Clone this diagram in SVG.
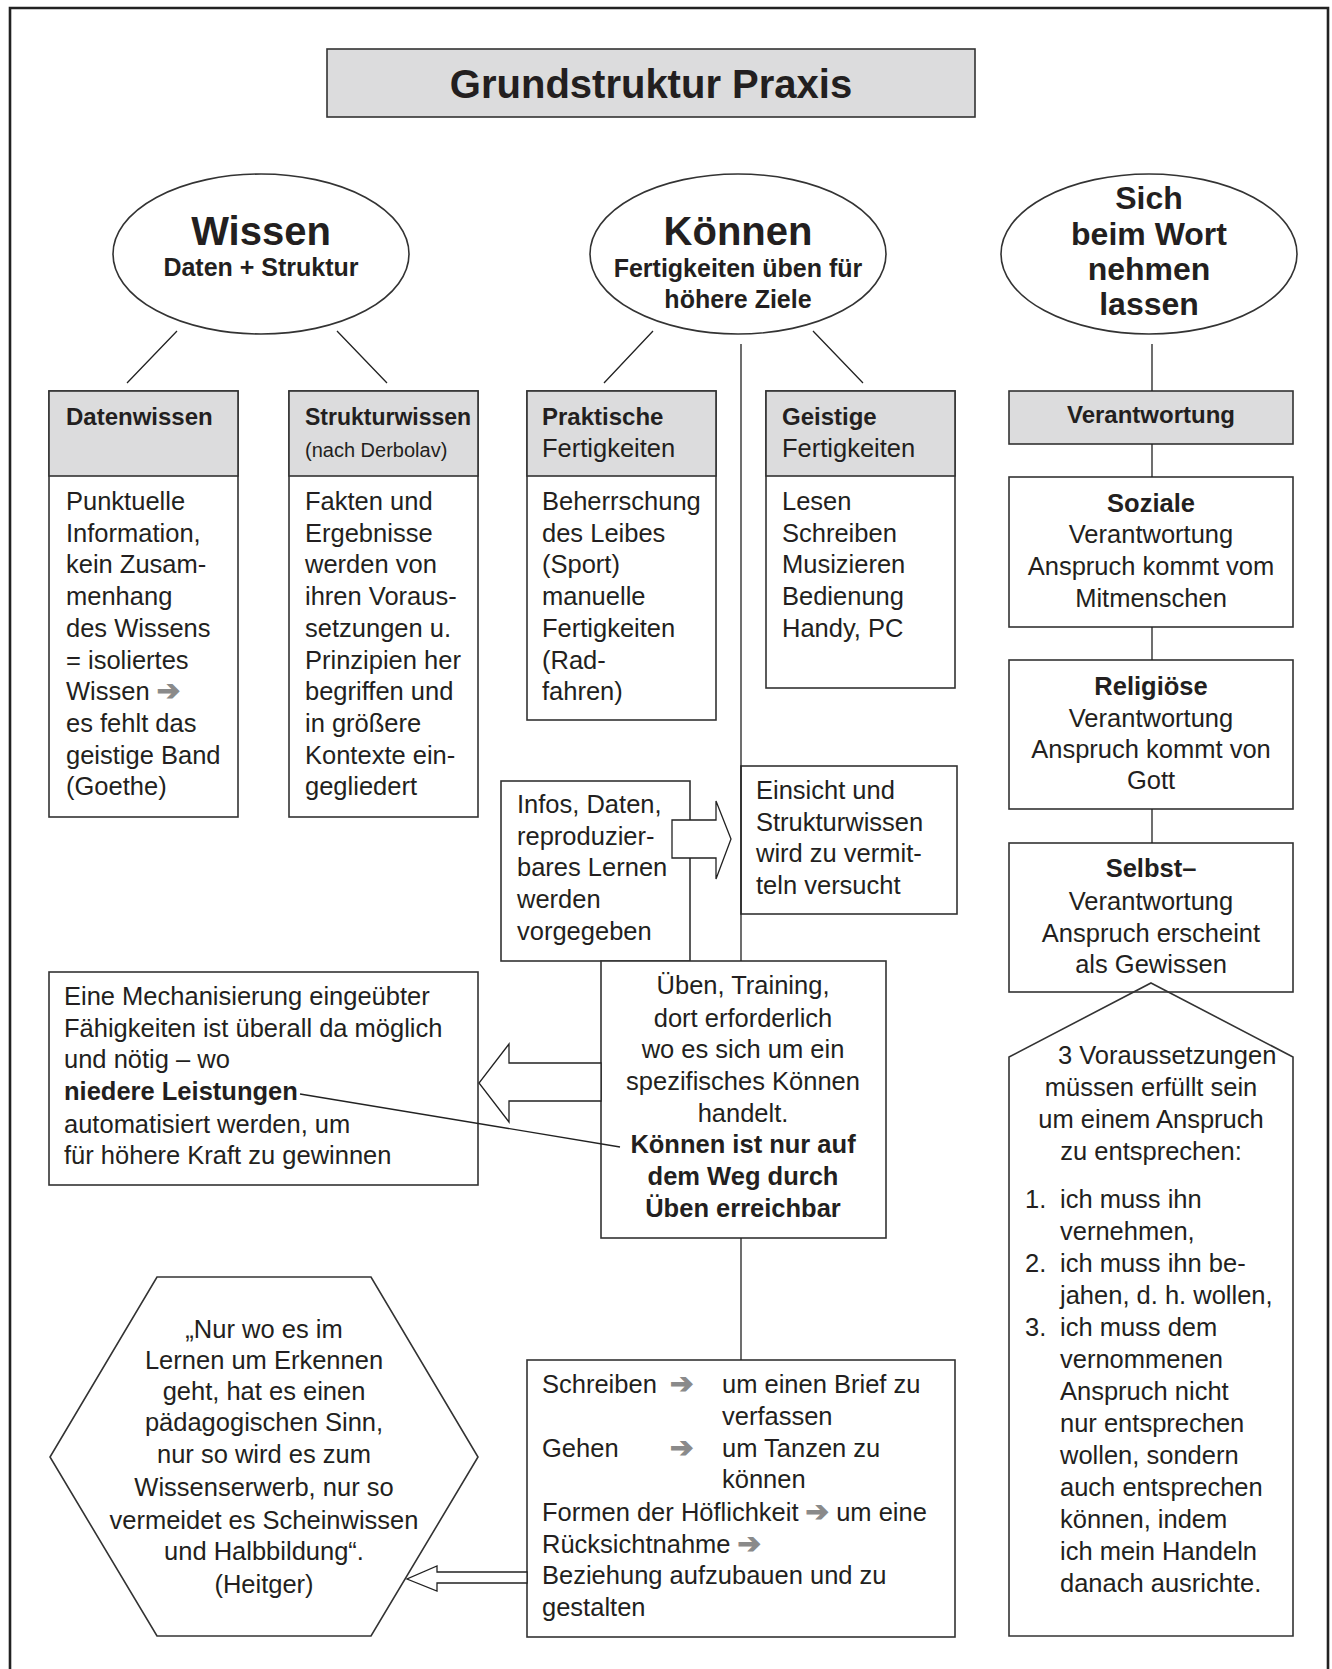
<svg xmlns="http://www.w3.org/2000/svg" width="1332" height="1669" viewBox="0 0 1332 1669">
<style>
.t{font-family:"Liberation Sans",Arial,sans-serif;font-size:25.5px;fill:#231f20}
.b{font-weight:bold}
.c{text-anchor:middle}
.box{fill:#fff;stroke:#333;stroke-width:1.6}
.hdr{fill:#dcdcdd;stroke:#333;stroke-width:1.6}
.ln{stroke:#222;stroke-width:1.3;fill:none}
.ha{fill:#fff;stroke:#222;stroke-width:1.3}
.ar{fill:#8a8a8a;stroke:#8a8a8a;stroke-width:1.1;font-family:"DejaVu Sans",sans-serif;font-size:28px;font-weight:bold}
</style>
<path d="M10 1669V8H1328V1669" fill="none" stroke="#222" stroke-width="2.6"/>

<g id="title">
<rect x="327" y="49" width="648" height="68" class="hdr"/>
<text x="651" y="98" class="t b c" style="font-size:40px">Grundstruktur Praxis</text>
</g>

<g id="wissen">
<ellipse cx="261" cy="254" rx="148" ry="80" class="box"/>
<text x="261" y="245" class="t b c" style="font-size:40px">Wissen</text>
<text x="261" y="276" class="t b c" style="font-size:25px">Daten + Struktur</text>
</g>
<g id="koennen">
<ellipse cx="738" cy="254" rx="148" ry="80" class="box"/>
<text x="738" y="245" class="t b c" style="font-size:40px">Können</text>
<text x="738" y="277" class="t b c" style="font-size:25px">Fertigkeiten üben für</text>
<text x="738" y="308" class="t b c" style="font-size:25px">höhere Ziele</text>
</g>
<g id="sich">
<ellipse cx="1149" cy="254" rx="148" ry="80" class="box"/>
<text class="t b c" style="font-size:32px"><tspan x="1149" y="209">Sich</tspan><tspan x="1149" y="245">beim Wort</tspan><tspan x="1149" y="280">nehmen</tspan><tspan x="1149" y="315">lassen</tspan></text>
</g>

<g id="datenwissen">
<rect x="49" y="391" width="189" height="426" class="box"/>
<rect x="49" y="391" width="189" height="85" class="hdr"/>
<text x="66" y="425" class="t b" style="font-size:24px">Datenwissen</text>
<text class="t"><tspan x="66" y="510">Punktuelle</tspan><tspan x="66" dy="31.7">Information,</tspan><tspan x="66" dy="31.7">kein Zusam-</tspan><tspan x="66" dy="31.7">menhang</tspan><tspan x="66" dy="31.7">des Wissens</tspan><tspan x="66" dy="31.7">= isoliertes</tspan><tspan x="66" dy="31.7">Wissen <tspan class="ar">➔</tspan></tspan><tspan x="66" dy="31.7">es fehlt das</tspan><tspan x="66" dy="31.7">geistige Band</tspan><tspan x="66" dy="31.7">(Goethe)</tspan></text>
</g>
<g id="strukturwissen">
<rect x="289" y="391" width="189" height="426" class="box"/>
<rect x="289" y="391" width="189" height="85" class="hdr"/>
<text x="305" y="425" class="t b" style="font-size:23px">Strukturwissen</text>
<text x="305" y="457" class="t" style="font-size:20px">(nach Derbolav)</text>
<text class="t"><tspan x="305" y="510">Fakten und</tspan><tspan x="305" dy="31.7">Ergebnisse</tspan><tspan x="305" dy="31.7">werden von</tspan><tspan x="305" dy="31.7">ihren Voraus-</tspan><tspan x="305" dy="31.7">setzungen u.</tspan><tspan x="305" dy="31.7">Prinzipien her</tspan><tspan x="305" dy="31.7">begriffen und</tspan><tspan x="305" dy="31.7">in größere</tspan><tspan x="305" dy="31.7">Kontexte ein-</tspan><tspan x="305" dy="31.7">gegliedert</tspan></text>
</g>
<g id="praktische">
<rect x="527" y="391" width="189" height="329" class="box"/>
<rect x="527" y="391" width="189" height="85" class="hdr"/>
<text x="542" y="425" class="t b" style="font-size:24px">Praktische</text>
<text x="542" y="457" class="t">Fertigkeiten</text>
<text class="t"><tspan x="542" y="510">Beherrschung</tspan><tspan x="542" dy="31.7">des Leibes</tspan><tspan x="542" dy="31.7">(Sport)</tspan><tspan x="542" dy="31.7">manuelle</tspan><tspan x="542" dy="31.7">Fertigkeiten</tspan><tspan x="542" dy="31.7">(Rad-</tspan><tspan x="542" dy="31.7">fahren)</tspan></text>
</g>
<g id="geistige">
<rect x="766" y="391" width="189" height="297" class="box"/>
<rect x="766" y="391" width="189" height="85" class="hdr"/>
<text x="782" y="425" class="t b" style="font-size:24px">Geistige</text>
<text x="782" y="457" class="t">Fertigkeiten</text>
<text class="t"><tspan x="782" y="510">Lesen</tspan><tspan x="782" dy="31.7">Schreiben</tspan><tspan x="782" dy="31.7">Musizieren</tspan><tspan x="782" dy="31.7">Bedienung</tspan><tspan x="782" dy="31.7">Handy, PC</tspan></text>
</g>

<g id="verantwortung">
<rect x="1009" y="391" width="284" height="53" class="hdr"/>
<text x="1151" y="423" class="t b c" style="font-size:24px">Verantwortung</text>
</g>
<g id="soziale">
<rect x="1009" y="477" width="284" height="150" class="box"/>
<text class="t c"><tspan x="1151" y="512" class="b">Soziale</tspan><tspan x="1151" y="543">Verantwortung</tspan><tspan x="1151" y="575">Anspruch kommt vom</tspan><tspan x="1151" y="607">Mitmenschen</tspan></text>
</g>
<g id="religioese">
<rect x="1009" y="660" width="284" height="149" class="box"/>
<text class="t c"><tspan x="1151" y="695" class="b">Religiöse</tspan><tspan x="1151" y="727">Verantwortung</tspan><tspan x="1151" y="758">Anspruch kommt von</tspan><tspan x="1151" y="789">Gott</tspan></text>
</g>
<g id="voraussetzungen">
<polygon points="1151,983 1293,1057 1293,1636 1009,1636 1009,1057" fill="none" stroke="#333" stroke-width="1.6"/>
<text x="1058" y="1064" class="t">3 Voraussetzungen</text>
<text class="t c"><tspan x="1151" y="1096">müssen erfüllt sein</tspan><tspan x="1151" y="1128">um einem Anspruch</tspan><tspan x="1151" y="1160">zu entsprechen:</tspan></text>
<text class="t"><tspan x="1025" y="1208">1.</tspan><tspan x="1060" y="1208">ich muss ihn</tspan><tspan x="1060" y="1240">vernehmen,</tspan><tspan x="1025" y="1272">2.</tspan><tspan x="1060" y="1272">ich muss ihn be-</tspan><tspan x="1060" y="1304">jahen, d. h. wollen,</tspan><tspan x="1025" y="1336">3.</tspan><tspan x="1060" y="1336">ich muss dem</tspan><tspan x="1060" y="1368">vernommenen</tspan><tspan x="1060" y="1400">Anspruch nicht</tspan><tspan x="1060" y="1432">nur entsprechen</tspan><tspan x="1060" y="1464">wollen, sondern</tspan><tspan x="1060" y="1496">auch entsprechen</tspan><tspan x="1060" y="1528">können, indem</tspan><tspan x="1060" y="1560">ich mein Handeln</tspan><tspan x="1060" y="1592">danach ausrichte.</tspan></text>
</g>
<g id="selbst">
<rect x="1009" y="843" width="284" height="149" fill="none" stroke="#333" stroke-width="1.6"/>
<text class="t c"><tspan x="1151" y="877" class="b">Selbst–</tspan><tspan x="1151" y="910">Verantwortung</tspan><tspan x="1151" y="942">Anspruch erscheint</tspan><tspan x="1151" y="973">als Gewissen</tspan></text>
</g>

<g id="infos">
<rect x="501" y="781" width="189" height="180" class="box"/>
<text class="t"><tspan x="517" y="813">Infos, Daten,</tspan><tspan x="517" dy="31.7">reproduzier-</tspan><tspan x="517" dy="31.7">bares Lernen</tspan><tspan x="517" dy="31.7">werden</tspan><tspan x="517" dy="31.7">vorgegeben</tspan></text>
</g>
<g id="einsicht">
<rect x="741" y="766" width="216" height="148" class="box"/>
<text class="t"><tspan x="756" y="799">Einsicht und</tspan><tspan x="756" dy="31.7">Strukturwissen</tspan><tspan x="756" dy="31.7">wird zu vermit-</tspan><tspan x="756" dy="31.7">teln versucht</tspan></text>
</g>
<g id="ueben">
<rect x="601" y="961" width="285" height="277" class="box"/>
<text class="t c"><tspan x="743" y="994">Üben, Training,</tspan><tspan x="743" y="1027">dort erforderlich</tspan><tspan x="743" y="1058">wo es sich um ein</tspan><tspan x="743" y="1090">spezifisches Können</tspan><tspan x="743" y="1122">handelt.</tspan><tspan x="743" y="1153" class="b">Können ist nur auf</tspan><tspan x="743" y="1185" class="b">dem Weg durch</tspan><tspan x="743" y="1217" class="b">Üben erreichbar</tspan></text>
</g>
<g id="mechanisierung">
<rect x="49" y="972" width="429" height="213" class="box"/>
<text class="t"><tspan x="64" y="1005">Eine Mechanisierung eingeübter</tspan><tspan x="64" y="1037">Fähigkeiten ist überall da möglich</tspan><tspan x="64" y="1068">und nötig – wo</tspan><tspan x="64" y="1100" class="b">niedere Leistungen</tspan><tspan x="64" y="1133">automatisiert werden, um</tspan><tspan x="64" y="1164">für höhere Kraft zu gewinnen</tspan></text>
</g>
<g id="zitat">
<polygon points="157,1277 371,1277 478,1457 371,1636 157,1636 50,1457" class="box" stroke-width="1.3"/>
<text class="t c"><tspan x="264" y="1338">„Nur wo es im</tspan><tspan x="264" y="1369">Lernen um Erkennen</tspan><tspan x="264" y="1400">geht, hat es einen</tspan><tspan x="264" y="1431">pädagogischen Sinn,</tspan><tspan x="264" y="1463">nur so wird es zum</tspan><tspan x="264" y="1496">Wissenserwerb, nur so</tspan><tspan x="264" y="1529">vermeidet es Scheinwissen</tspan><tspan x="264" y="1560">und Halbbildung“.</tspan><tspan x="264" y="1593">(Heitger)</tspan></text>
</g>
<g id="beispiele">
<rect x="527" y="1360" width="428" height="277" class="box"/>
<text class="t"><tspan x="542" y="1393">Schreiben</tspan><tspan x="542" y="1457">Gehen</tspan><tspan x="542" y="1521">Formen der Höflichkeit <tspan class="ar">➔</tspan> um eine</tspan><tspan x="542" y="1553">Rücksichtnahme <tspan class="ar">➔</tspan></tspan><tspan x="542" y="1584">Beziehung aufzubauen und zu</tspan><tspan x="542" y="1616">gestalten</tspan></text>
<text class="ar"><tspan x="670" y="1393">➔</tspan><tspan x="670" y="1457">➔</tspan></text>
<text class="t"><tspan x="722" y="1393">um einen Brief zu</tspan><tspan x="722" y="1425">verfassen</tspan><tspan x="722" y="1457">um Tanzen zu</tspan><tspan x="722" y="1488">können</tspan></text>
</g>

<g id="connectors">
<path class="ln" d="M177 331L127 383M337 331L387 383M653 331L604 383M813 331L863 383"/>
<path class="ln" d="M741 344V961M741 1238V1360"/>
<path class="ln" d="M1152 344V391M1152 444V477M1152 627V660M1152 809V843"/>
<polygon class="ha" points="672,820 716,820 716,801 731,839 716,879 716,858 672,858"/>
<polygon class="ha" points="601,1063 509,1063 509,1044 479,1083 509,1122 509,1101 601,1101"/>
<polygon class="ha" points="527,1572 437,1572 437,1566 407,1579 437,1591 437,1583 527,1583"/>
<path class="ln" d="M300 1094L620 1147"/>
</g>
</svg>
